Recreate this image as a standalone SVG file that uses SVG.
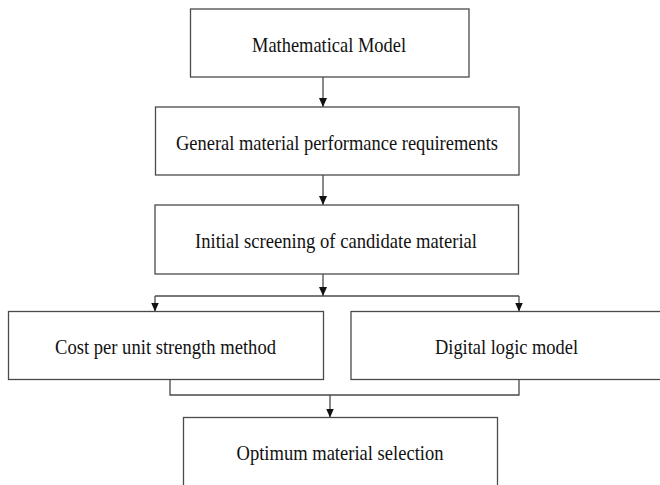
<svg xmlns="http://www.w3.org/2000/svg" width="660" height="485" viewBox="0 0 660 485">
<style>
.box{fill:#ffffff;stroke:#4a4a4a;stroke-width:1.3}
.lbl{font-family:"Liberation Serif","Times New Roman",serif;font-size:21px;fill:#111;text-anchor:middle}
.con{fill:none;stroke:#4a4a4a;stroke-width:1.3}
</style>
<defs>
<marker id="ah" markerUnits="userSpaceOnUse" markerWidth="9" markerHeight="8" viewBox="0 0 9 8" refX="9" refY="4" orient="auto">
<path d="M0,0 L9,4 L0,8 Z" fill="#111"/>
</marker>
</defs>
<rect width="660" height="485" fill="#ffffff"/>
<g id="connectors">
<path class="con" d="M323,77 V107" marker-end="url(#ah)"/>
<path class="con" d="M323,175 V205" marker-end="url(#ah)"/>
<path class="con" d="M323,274 V296" marker-end="url(#ah)"/>
<path class="con" d="M155,296 H519"/>
<path class="con" d="M155,296 V311.5" marker-end="url(#ah)"/>
<path class="con" d="M519,296 V311.5" marker-end="url(#ah)"/>
<path class="con" d="M170,379.5 V395 H519 V379.5"/>
<path class="con" d="M330,395 V417.5" marker-end="url(#ah)"/>
</g>
<g id="n1"><rect class="box" x="190.5" y="9" width="278.5" height="68"/><text class="lbl" x="329" y="51.5" textLength="154" lengthAdjust="spacingAndGlyphs">Mathematical Model</text></g>
<g id="n2"><rect class="box" x="155.5" y="107" width="363.5" height="68"/><text class="lbl" x="337" y="149.5" textLength="322" lengthAdjust="spacingAndGlyphs">General material performance requirements</text></g>
<g id="n3"><rect class="box" x="155" y="205" width="363.5" height="69"/><text class="lbl" x="336" y="248" textLength="282" lengthAdjust="spacingAndGlyphs">Initial screening of candidate material</text></g>
<g id="n4"><rect class="box" x="8.5" y="311.5" width="315" height="68"/><text class="lbl" x="165.5" y="354" textLength="221" lengthAdjust="spacingAndGlyphs">Cost per unit strength method</text></g>
<g id="n5"><rect class="box" x="351" y="311.5" width="320" height="68"/><text class="lbl" x="506.5" y="354" textLength="143" lengthAdjust="spacingAndGlyphs">Digital logic model</text></g>
<g id="n6"><rect class="box" x="183.5" y="417.5" width="314" height="80"/><text class="lbl" x="340" y="459.5" textLength="207" lengthAdjust="spacingAndGlyphs">Optimum material selection</text></g>
</svg>
